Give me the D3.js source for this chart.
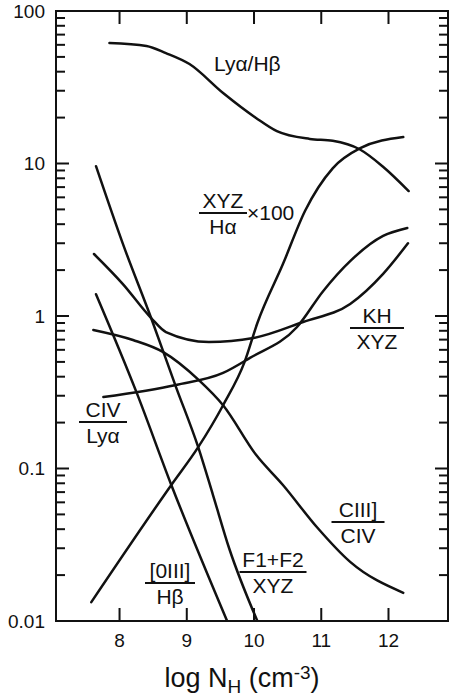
<!DOCTYPE html>
<html>
<head>
<meta charset="utf-8">
<script src="https://cdn.jsdelivr.net/npm/d3@7"></script>
<style>
	body { margin: 0; background: #fff; }
	text { font-family: "Liberation Sans", Arial, Helvetica, sans-serif; fill: #111; }
</style>
</head>
<body>
<div id="chartContainer"></div>
<script>
"use strict";

// [log N_H, ratio]
var lyaHb = [[7.85, 61.7], [8.40, 59], [8.69, 53], [9.04, 44.9], [9.54, 29], [10.03, 19.9], [10.34, 16.3], [10.83, 14.5], [11.17, 14.1], [11.57, 12.4], [11.91, 9.6], [12.30, 6.6]];
var xyzHa = [[7.58, 0.0133], [8.77, 0.078], [9.17, 0.138], [9.54, 0.26], [9.86, 0.50], [10.05, 0.90], [10.43, 2.19], [10.76, 4.9], [11.17, 9.3], [11.58, 12.6], [12.22, 14.9]];
var khXyz = [[7.62, 2.55], [8.05, 1.62], [8.47, 0.97], [8.69, 0.785], [9.33, 0.676], [9.99, 0.717], [10.73, 0.914], [11.43, 1.2], [11.92, 1.89], [12.29, 3.0]];
var civLya = [[7.76, 0.294], [8.84, 0.353], [9.54, 0.423], [9.94, 0.531], [10.64, 0.847], [11.03, 1.46], [11.43, 2.29], [11.92, 3.35], [12.28, 3.78]];
var ciiiCiv = [[7.61, 0.81], [8.20, 0.696], [8.65, 0.58], [9.18, 0.38], [9.54, 0.26], [10.03, 0.123], [10.43, 0.078], [10.94, 0.041], [11.43, 0.0244], [12.22, 0.0153]];
var f1f2Xyz = [[7.65, 9.6], [8.05, 2.97], [8.47, 0.97], [8.84, 0.342], [9.17, 0.138], [9.39, 0.067], [9.63, 0.030], [10.05, 0.01]];
var oiiiHb = [[7.65, 1.39], [8.25, 0.318], [8.77, 0.078], [9.60, 0.01]];

var xTicks = [8, 9, 10, 11, 12];
var yTicks = [0.01, 0.1, 1, 10, 100];
var yTickLabels = ["0.01", "0.1", "1", "10", "100"];

const width = 452, height = 696;
const plotLeft = 56, plotRight = 448, plotTop = 11, plotBottom = 621;
const majorLen = 13, minorLen = 9;

var svg = d3.select("#chartContainer")
	.append("svg")
	.attr("width", width)
	.attr("height", height);

var x = d3.scaleLinear().domain([7.055, 12.885]).range([plotLeft, plotRight]);
var y = d3.scaleLog().domain([0.01, 100]).range([plotBottom, plotTop]);

var minorTicks = [];
yTicks.slice(0, -1).forEach(function(d) {
	for (let k = 2; k <= 9; k++) minorTicks.push(d * k);
});

// inward tick marks on all four sides
var ticks = svg.append("g")
	.attr("stroke", "#111")
	.attr("stroke-width", 2);

[plotBottom, plotTop].forEach(function(edge) {
	let dir = edge === plotBottom ? -1 : 1;
	ticks.selectAll(null)
		.data(xTicks)
		.enter()
		.append("line")
			.attr("x1", d => x(d)).attr("x2", d => x(d))
			.attr("y1", edge).attr("y2", edge + dir * majorLen);
});

[plotLeft, plotRight].forEach(function(edge) {
	let dir = edge === plotLeft ? 1 : -1;
	ticks.selectAll(null)
		.data(yTicks.concat(minorTicks))
		.enter()
		.append("line")
			.attr("y1", d => y(d)).attr("y2", d => y(d))
			.attr("x1", edge)
			.attr("x2", d => edge + dir * (yTicks.includes(d) ? majorLen : minorLen));
});

svg.append("g")
	.selectAll("text")
	.data(xTicks)
	.enter()
	.append("text")
		.attr("x", d => x(d))
		.attr("y", plotBottom + 26)
		.attr("text-anchor", "middle")
		.style("font-size", "19px")
		.text(d => d);

svg.append("g")
	.selectAll("text")
	.data(yTicks)
	.enter()
	.append("text")
		.attr("x", plotLeft - 11)
		.attr("y", d => y(d))
		.attr("dy", "0.35em")
		.attr("text-anchor", "end")
		.style("font-size", "19px")
		.text((d, i) => yTickLabels[i]);

svg.append("rect")
	.attr("x", plotLeft).attr("y", plotTop)
	.attr("width", plotRight - plotLeft).attr("height", plotBottom - plotTop)
	.attr("fill", "none").attr("stroke", "#111").attr("stroke-width", 2);

svg.append("clipPath").attr("id", "plotClip")
	.append("rect")
	.attr("x", plotLeft).attr("y", plotTop)
	.attr("width", plotRight - plotLeft).attr("height", plotBottom - plotTop);

var line = d3.line()
	.x(d => x(d[0]))
	.y(d => y(d[1]))
	.curve(d3.curveMonotoneX);

svg.append("g")
	.attr("clip-path", "url(#plotClip)")
	.selectAll("path")
	.data([lyaHb, xyzHa, khXyz, civLya, ciiiCiv, f1f2Xyz, oiiiHb])
	.enter()
	.append("path")
		.attr("d", line)
		.attr("fill", "none")
		.attr("stroke", "#111")
		.attr("stroke-width", 2.5)
		.attr("stroke-linecap", "round");

// stacked ratio labels: numerator over a rule over denominator
function fraction(cx, lineY, num, den, w) {
	let g = svg.append("g").style("font-size", "21px");
	g.append("text").attr("x", cx).attr("y", lineY - 5).attr("text-anchor", "middle").text(num);
	g.append("line")
		.attr("x1", cx - w / 2).attr("x2", cx + w / 2)
		.attr("y1", lineY).attr("y2", lineY)
		.attr("stroke", "#111").attr("stroke-width", 1.8);
	g.append("text").attr("x", cx).attr("y", lineY + 21).attr("text-anchor", "middle").text(den);
	return g;
}

svg.append("text")
	.attr("x", 214).attr("y", 71)
	.style("font-size", "21px")
	.text("Lyα/Hβ");

fraction(223, 213, "XYZ", "Hα", 48);
svg.append("text")
	.attr("x", 247).attr("y", 220)
	.style("font-size", "21px")
	.text("×100");

fraction(377, 328, "KH", "XYZ", 54);
fraction(103, 422, "CIV", "Lyα", 48);
fraction(170, 583, "[0III]", "Hβ", 50);
fraction(273, 572, "F1+F2", "XYZ", 67);
fraction(358, 522, "CIII]", "CIV", 53);

let title = svg.append("text")
	.attr("x", 242).attr("y", 687)
	.attr("text-anchor", "middle")
	.style("font-size", "27px");
title.append("tspan").text("log N");
title.append("tspan").attr("baseline-shift", "-30%").style("font-size", "19px").text("H");
title.append("tspan").text(" (cm");
title.append("tspan").attr("baseline-shift", "40%").style("font-size", "19px").text("-3");
title.append("tspan").text(")");
</script>
</body>
</html>
